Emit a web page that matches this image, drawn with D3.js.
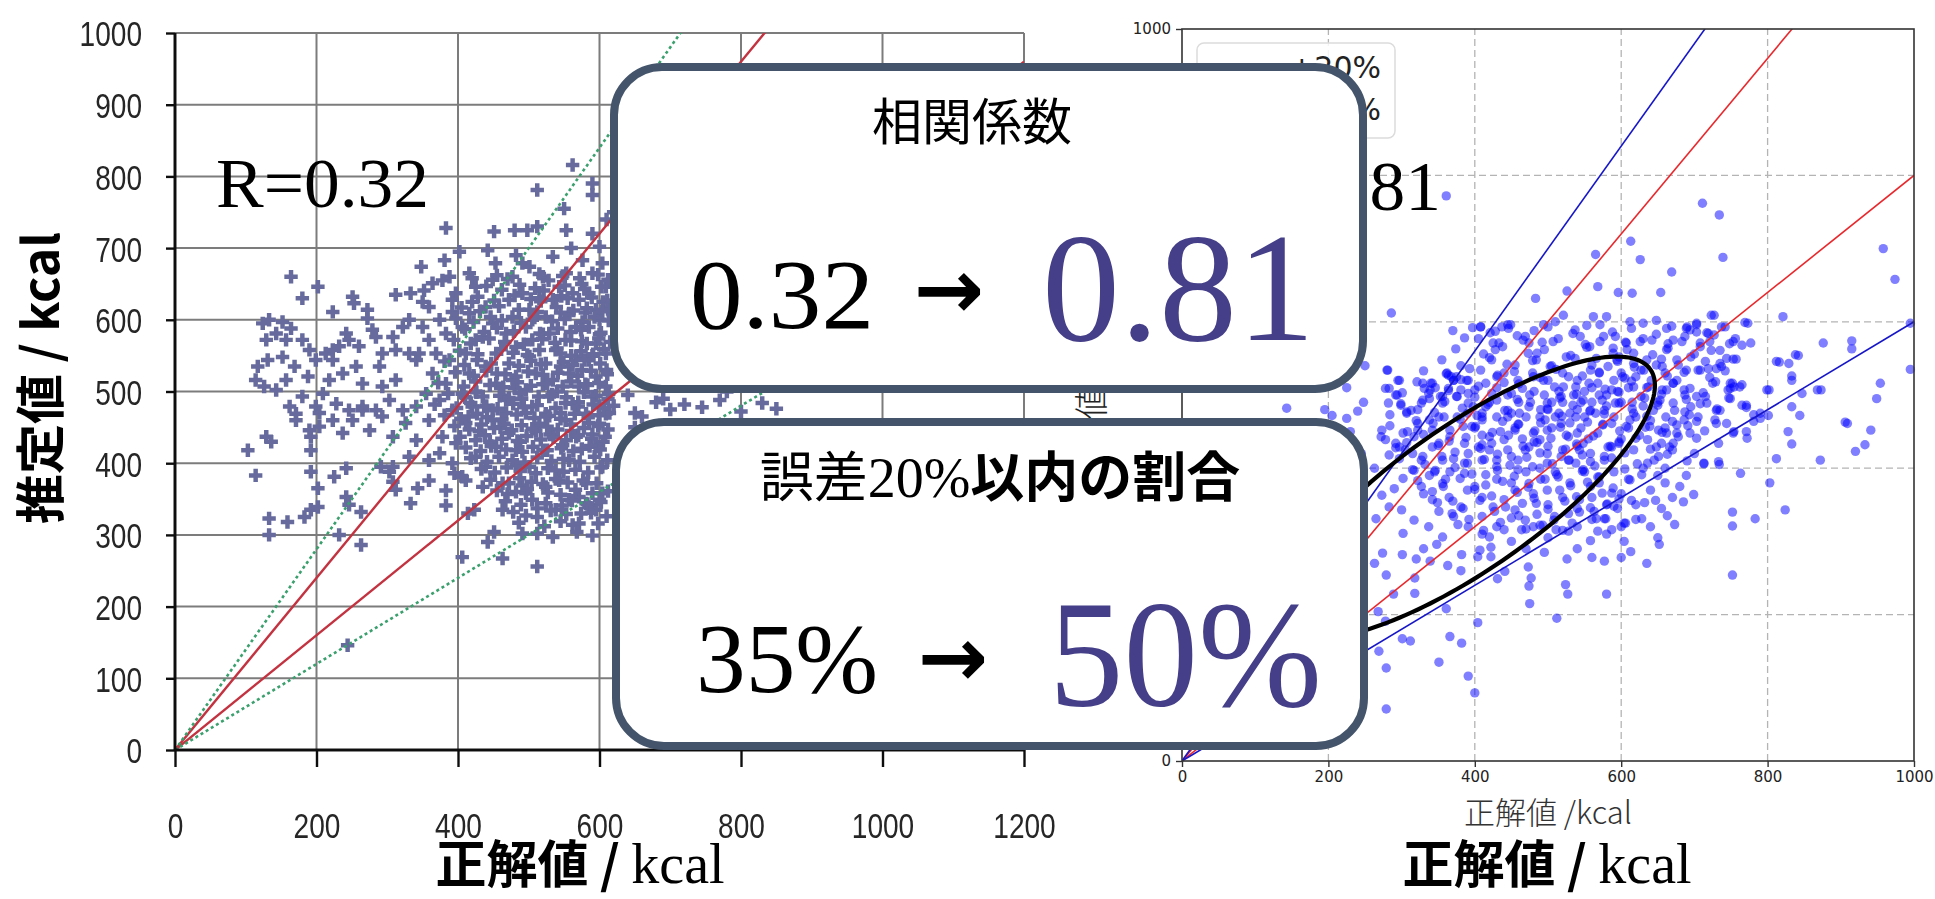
<!DOCTYPE html>
<html>
<head>
<meta charset="utf-8">
<script src="https://cdn.jsdelivr.net/npm/d3@7"></script>
<style>
  body { margin: 0; background: #fff; }
  svg { display: block; }
</style>
</head>
<body>
<svg id="chart" width="1935" height="899"></svg>
<script>
// ---------- data ----------
// before: spreadsheet scatter (true kcal vs estimated kcal)
const leftTicksX = [0, 200, 400, 600, 800, 1000, 1200];
const leftTicksY = [0, 100, 200, 300, 400, 500, 600, 700, 800, 900, 1000];
// after: matplotlib scatter
const rightTicks = [0, 200, 400, 600, 800, 1000];
// relative error bands drawn as y = (1 ± b) x
const errorBands = [0.2, 0.4];
const legendLabels = ["±20%", "±40%"];
// correlation and share within 20 % error, before -> after
const corrValues = ["0.32", "0.81"];
const within20 = ["35%", "50%"];
// 2-sigma ellipse of the new estimates
const ellipseCenter = [390, 360];
const ellipseAxes = [305, 98];
const ellipseAngle = 35;

const leftPoints = [
[562,816],[512,781],[590,790],[590,774],[550,755],[383,728],[451,723],[480,725],[498,725],[512,730],[553,725],[402,695],[381,683],[348,674],[442,697],[453,679],[482,690],[491,679],[416,665],[420,658],[164,660],[202,646],[180,630],[251,632],[253,623],[223,611],[272,614],[272,602],[312,635],[333,637],[352,641],[364,651],[378,655],[388,660],[350,625],[392,611],[420,625],[124,595],[133,600],[152,597],[164,588],[143,581],[129,572],[157,572],[180,572],[190,558],[117,535],[131,544],[152,548],[169,535],[114,516],[126,507],[157,516],[188,521],[199,544],[213,553],[223,558],
[242,581],[246,572],[260,563],[232,563],[223,544],[237,525],[256,535],[265,511],[289,535],[293,553],[308,576],[322,590],[331,600],[312,558],[331,553],[341,544],[284,576],[279,586],
[162,479],[171,469],[199,479],[228,483],[246,474],[265,479],[284,474],[303,488],[322,474],[209,497],[180,493],[143,502],[218,516],[293,507],[312,516],
[359,618],[374,600],[383,581],[359,572],[369,553],[388,544],[364,525],[383,511],[374,488],[392,474],[406,497],[416,525],[411,553],[425,572],[406,590],[416,609],[439,618],[449,595],[435,576],[454,553],[439,535],[454,511],[435,493],[449,474],[468,488],[477,516],[472,539],[482,562],[468,581],[477,604],[472,628],[491,637],[501,614],[496,590],[505,572],[501,549],[510,525],[496,502],[505,479],[524,469],[529,493],[534,516],[524,539],[538,558],[529,581],[524,604],[534,628],[543,646],[520,660],[553,665],[562,637],[557,609],[567,590],[552,572],[567,549],[557,525],[571,507],[562,483],[581,469],[590,493],[595,521],[585,544],[595,567],[585,590],[595,614],[585,637],[590,665],[576,683],[534,688],[501,674],[477,660],[449,656],[425,646],[397,637],[600,702],[604,679],[609,646],[609,553],[609,507],[609,469],[392,628],[350,590],[345,553],[355,497],[341,479],
[103,418],[114,383],[129,437],[136,430],[133,323],[133,300],[159,318],[183,325],[192,335],[202,339],[202,365],[192,388],[192,418],[192,437],[204,451],[225,381],[242,393],[242,353],[246,342],[232,300],[263,332],[263,286],[291,395],[303,388],[308,374],[312,363],[333,344],[343,365],[383,362],[383,341],[395,386],[411,376],[414,330],[423,335],[406,269],[442,290],[451,304],[463,267],[482,360],[491,369],[512,337],[512,325],[512,302],[512,256],[574,330],[585,339],[571,353],[600,349],[244,146],
[171,460],[190,446],[204,470],[223,460],[237,442],[251,460],[265,474],[275,446],[293,465],[308,437],[326,456],[341,432],[331,409],[359,460],[378,437],[374,414],[397,428],[411,456],[425,409],[439,395],[454,423],[472,442],[482,418],[501,395],[520,418],[538,390],[543,376],[557,404],[524,367],[567,437],[585,456],[595,423],[604,395],[581,372],[604,358],[552,460],[524,465],[449,460],[420,479],[496,470],[468,470],[614,470],[557,349],[538,335],[581,344],[595,335],[571,316],[496,358],[472,372],[482,397],[463,335],[435,367],[406,381],[392,400],[359,376],[359,404],[308,395],
[430,445],[445,430],[460,450],[488,430],[510,445],[530,440],[548,425],[560,445],[575,420],[590,440],[605,430],[415,465],[440,480],[465,455],[490,490],[515,455],[545,470],[570,485],[600,455],[612,490],[425,500],[455,525],[480,505],[540,500],[575,530],[600,580],[612,615],[560,700],[590,720],[610,740],
[505,600],[515,630],[545,610],[555,630],[575,650],[580,610],[600,600],[605,625],[520,580],[540,560],[560,550],[575,570],[590,550],[610,530],[545,535],[520,510],[580,510],[600,480],
[455,662],[470,657],[515,664],[528,655],[548,661],[572,658],[598,663],[612,656],
[440,647],[462,642],[487,649],[509,644],[521,641],[551,648],[579,643],[603,646],
[428,632],[451,627],[480,634],[503,629],[517,626],[546,633],[571,628],[589,631],[611,627],
[405,617],[431,612],[458,619],[486,614],[512,611],[539,618],[563,613],[582,616],[604,612],
[397,602],[422,597],[446,604],[462,599],[489,596],[508,603],[533,598],[551,601],[576,597],[593,604],[613,599],
[410,587],[437,583],[455,589],[479,584],[516,581],[541,588],[559,583],[574,586],[602,582],
[394,572],[418,567],[444,574],[466,569],[493,566],[519,573],[537,568],[560,571],[582,567],[599,574],[615,569],
[402,557],[428,552],[461,559],[478,554],[498,551],[515,558],[545,553],[574,556],[591,552],[606,559],
[381,542],[409,537],[427,544],[447,539],[486,536],[503,543],[517,538],[549,541],[562,537],[579,544],[601,539],
[396,527],[422,522],[440,529],[467,524],[482,521],[499,528],[520,523],[541,526],[569,522],[588,529],[611,524],
[372,512],[408,507],[425,514],[445,509],[464,506],[484,513],[503,508],[526,511],[548,507],[560,514],[583,509],[599,512],
[386,497],[410,492],[426,499],[459,494],[472,491],[487,498],[514,493],[533,496],[553,492],[578,499],[595,494],[613,497],
[367,482],[398,477],[418,484],[437,479],[456,476],[478,483],[493,478],[512,481],[538,477],[552,484],[570,479],[591,482],[606,477],
[381,467],[404,462],[427,469],[441,464],[462,461],[483,468],[508,463],[529,466],[545,462],[565,469],[584,464],[599,467],
[395,452],[416,447],[433,454],[451,449],[476,446],[490,453],[505,448],[526,451],[541,447],[560,454],[578,449],[598,452],[612,447],
[403,437],[425,432],[438,439],[462,434],[484,431],[497,438],[517,433],[535,436],[553,432],[570,439],[589,434],[608,437],
[411,422],[432,417],[447,424],[468,419],[491,416],[506,423],[526,418],[546,421],[563,417],[586,424],[601,419],
[418,407],[441,402],[458,409],[477,404],[494,401],[512,408],[532,403],[549,406],[572,402],[593,409],[611,404],
[433,392],[452,387],[469,394],[488,389],[510,386],[527,393],[549,388],[566,391],[584,387],[602,394],
[446,377],[463,372],[487,379],[504,374],[520,371],[538,378],[555,373],[577,376],[596,372],
[455,362],[470,357],[498,364],[527,359],[545,356],[566,363],[590,358],[612,361],
[467,347],[489,342],[505,349],[524,344],[547,341],[561,348],[583,343],[602,346],
[478,332],[496,327],[531,334],[553,329],[588,331],[610,326],
[486,317],[522,312],[545,319],[562,314],[598,316],
[491,302],[534,297],[568,304],[590,299],
[620,480],[650,470],[680,485],[700,475],[720,482],[745,478],[770,488],[800,472],[830,484],[850,476],[640,495],[690,490],[660,465],
[650,600],[700,550],[750,620],[800,580],[680,700],[720,650],[850,520],[900,600],[640,400],[700,350],[750,420],[800,300],[680,320],[660,520],[730,540],[780,500],[620,750],[700,780],[820,680],[650,450]
];

const rightPoints = [
[361,772],[286,612],[711,762],[734,746],[739,688],[613,710],[626,685],[669,668],[565,692],[568,648],[596,640],[615,639],[654,640],[526,642],[483,632],[958,700],[974,658],[821,607],[727,609],[370,588],[995,598],[995,535],[876,571],[915,574],[915,563],[842,554],[816,545],[829,543],[954,516],[949,495],[873,507],[847,502],[833,526],[833,520],[802,507],[909,461],[941,452],[933,432],[920,423],[844,472],[833,484],[828,450],[833,433],[812,413],[872,411],[801,472],[790,468],[781,464],[772,441],[754,450],[744,461],[735,479],[771,483],[752,516],[765,514],[749,509],[773,598],[777,571],[756,577],[748,570],[757,549],[742,593],[727,582],[717,585],[703,598],[690,593],[713,407],[733,409],
[769,599],[753,549],[812,546],[838,555],[799,507],[868,507],[906,463],
[723,609],[737,593],[753,573],[744,550],[765,568],[703,596],[689,591],[708,571],[719,584],[730,536],[708,534],[719,536],[749,516],[762,511],[746,507],[771,486],[781,473],[790,475],[753,448],[771,450],[730,479],[717,489],[730,461],[703,441],[733,434],[749,495],
[446,591],[466,575],[494,596],[510,600],[521,609],[537,589],[562,607],[571,596],[580,607],[592,580],[612,600],[630,598],[648,602],[662,591],[671,575],[683,573],[694,589],[708,566],[607,571],[626,573],[642,575],[662,562],[676,548],[507,573],[544,580],[557,566],[571,573],[589,564],[485,557],[525,552],[566,550],[594,548],[617,557],[635,548],[648,541],[660,530],[671,516],[689,534],[687,500],[703,498],[687,477],[703,464],[694,448],[676,459],[662,448],[648,429],[671,434],[639,457],[644,479],[653,493],[662,507],
[279,71],[279,127],[269,150],[351,135],[391,116],[400,93],[366,170],[382,161],[301,167],[312,164],[404,189],[361,208],[318,229],[289,228],[268,204],[278,191],[512,195],[475,215],[474,239],[477,250],[473,265],[524,241],[527,228],[580,228],[526,276],[560,278],[577,273],[600,278],[613,286],[431,249],[441,259],[635,270],[650,305],[652,296],[663,335],[673,323],[647,356],[628,331],[632,353],[752,254],[752,340],[752,321],[783,331],[824,343],[803,380],[689,390],[699,364],[685,354],[763,393],[713,406],[734,405],[604,300],[606,325],[614,356],[558,301],[568,314],[579,331],[590,348],[318,250],[279,254],[363,267],[381,260],[339,273],[320,276],[301,282],[274,284],[263,270],[330,290],[348,296],[382,282],[407,288],[422,292],[404,279],[422,279],
[283,418],[297,429],[263,400],[290,372],[273,363],[302,386],[317,397],[327,375],[342,357],[356,379],[366,395],[371,413],[391,420],[386,393],[400,375],[415,391],[430,411],[445,425],[459,398],[474,379],[455,370],[440,357],[425,347],[410,334],[391,320],[371,334],[351,341],[337,320],[317,329],[300,343],[283,347],[265,331],[302,311],[356,306],[381,347],[484,352],[499,370],[514,388],[528,411],[543,425],[548,398],[558,375],[543,357],[528,338],[509,334],[489,322],[469,329],[455,343],[464,316],[440,316],[420,306],[511,316],[533,325],[568,388],[577,411],[587,429],[558,420],[499,420],[474,429],[410,432],[342,429],[327,411],[346,397],[587,366],[595,345],[577,331],[563,341],[587,316],[604,325],
[405,577],[425,571],[423,548],[408,534],[391,520],[371,520],[361,529],[381,507],[400,507],[415,516],[430,525],[437,593],[445,596],[408,593],[469,580],[474,571],[455,541],[484,548],[479,530],[459,520],[450,502],[430,493],[415,484],[391,489],[376,498],[356,489],[342,516],[337,502],[327,489],[351,470],[376,470],[396,457],[410,466],[430,470],[445,479],[455,452],[440,439],[420,443],[405,429],[386,434],[366,443],[351,434],[342,452],[322,461],[307,475],[317,443],[302,448],[292,434],[273,452],[278,439],[305,425],[329,416],[356,411],[386,407],[410,411],[430,402],[450,416],[469,425],[489,439],[499,452],[489,470],[474,484],[499,489],[518,498],[509,511],[494,520],[528,525],[538,511],[548,493],[558,479],[538,470],[518,461],[528,443],[548,434],[568,448],[587,461],[577,479],[597,489],[587,507],[568,516],[558,534],[582,539],[602,525],[617,511],[627,498],[617,475],[607,457],[597,434],[577,416],[558,409],[538,407],[518,416],[499,407],[479,402],[459,411],[617,425],[636,439],[651,452],[661,470],[671,489],[656,507],[641,520],[631,534],[617,543],[597,552],[656,539],[676,520],[686,507],[695,484],[686,466],[676,448],[666,429],[651,416],[636,407],[705,470],[715,498],[725,516],[705,534],[735,543],[695,552],[735,561],
[500,480],[510,470],[520,490],[505,455],[530,462],[540,480],[495,500],[515,505],[525,445],[545,455],[490,462],[480,448],[470,470],[460,490],[455,455],[475,500],[535,500],[550,470],[560,490],[555,440],[500,430],[520,425],[540,430],[485,435],[465,440],[450,475],[445,500],[560,510],[575,460],[570,500],[580,485],[590,470],[600,490],[610,455],[600,440],[585,430],[620,470],[630,485],[640,465],[625,445],[650,490],[660,455],[610,510],[590,520],[570,530],[540,520],[520,530],[505,540],[480,525],[460,515],[440,530],[430,510],[420,490],[410,470],[400,455],[390,475],[410,445],[420,425],[435,450],[445,470],[460,460],[490,480],[505,490],[515,475],[530,475],[545,490],[550,505],[565,475],[580,500],[595,505],[600,530],[615,490],[635,510],[620,525],
[470,395],[490,385],[510,395],[530,380],[550,395],[570,380],[590,395],[610,385],[630,400],[650,390],[480,365],[500,350],[520,360],[540,345],[560,360],[580,350],[600,365],[620,350],[640,370],[660,380],[450,380],[430,385],[410,360],[390,370],[370,355],[360,385],[345,395],[330,365],[460,335],[480,320],[500,305],[520,315],[540,320],[560,330],[580,310],[600,320],[620,330],[640,320],[450,300],[430,320],[410,310],[470,290],[495,285],[540,290],[655,345],[670,360],[680,375],[690,410],[700,420],[670,425],[660,400],
[281,534],[297,520],[278,509],[292,500],[248,490],[329,516],[339,507],[364,527],[371,520],[356,498],[280,534],[295,520],[283,509],[294,500],[282,489],[299,486],[307,477],[313,479],[329,493],[340,516],[331,509],[353,498],[362,530],[364,509],[375,525],[389,520],[391,502],[375,498],[398,484],[358,470],[338,466],[322,452],[384,457],[428,587],[428,562],[408,593],[410,475],
[397,592],[421,585],[449,596],[481,588],[500,593],[534,584],[553,595],[588,586],[614,591],[648,583],[669,594],[703,586],
[386,578],[433,571],[458,581],[492,572],[514,577],[551,569],[576,580],[606,572],[630,577],[664,570],[687,580],[721,573],
[374,563],[412,556],[438,566],[473,557],[495,562],[531,554],[553,565],[589,557],[608,562],[643,555],[664,564],[700,556],[723,561],
[355,548],[381,540],[420,551],[444,542],[479,547],[503,539],[537,550],[560,541],[595,546],[618,538],[655,549],[678,541],[715,546],[737,539],
[330,533],[368,525],[393,536],[431,527],[454,532],[489,524],[511,535],[547,526],[570,531],[605,523],[627,534],[663,526],[686,531],[721,524],[742,533],
[321,518],[346,510],[381,521],[405,512],[440,517],[465,509],[500,520],[521,511],[556,516],[578,508],[614,519],[637,511],[671,516],[694,509],[729,518],[754,511],
[301,503],[338,495],[364,506],[400,497],[423,502],[458,494],[481,505],[516,496],[539,501],[574,493],[597,504],[632,496],[655,501],[689,494],[712,503],[747,496],
[299,488],[322,480],[359,491],[383,482],[418,487],[441,479],[476,490],[499,481],[534,486],[557,478],[592,489],[615,481],[650,486],[673,479],[708,488],[731,481],[765,486],
[284,473],[320,465],[345,476],[380,467],[403,472],[438,464],[461,475],[496,466],[519,471],[554,463],[577,474],[612,466],[635,471],[670,464],[693,473],[728,466],
[284,458],[308,450],[343,461],[366,452],[401,457],[424,449],[459,460],[482,451],[517,456],[540,448],[575,459],[598,451],[633,456],[656,449],[691,458],[714,451],
[272,443],[307,435],[330,446],[365,437],[388,442],[423,434],[446,445],[481,436],[504,441],[539,433],[562,444],[597,436],[620,441],[655,434],[678,443],
[292,428],[315,420],[350,431],[373,422],[408,427],[431,419],[466,430],[489,421],[524,426],[547,418],[582,429],[605,421],[640,426],[663,419],
[297,413],[332,405],[355,416],[390,407],[413,412],[448,404],[471,415],[506,406],[529,411],[564,403],[587,414],[622,406],[645,411],
[315,398],[338,390],[373,401],[396,392],[431,397],[454,389],[489,400],[512,391],[547,396],[570,388],[605,399],[628,391],
[322,383],[357,375],[380,386],[415,377],[438,382],[473,374],[496,385],[531,376],[554,381],[589,373],[612,384],
[342,368],[365,360],[400,371],[423,362],[458,367],[481,359],[516,370],[539,361],[574,366],[597,358],
[349,353],[384,345],[407,356],[442,347],[465,352],[500,344],[523,355],[558,346],[581,351],
[369,338],[392,330],[427,341],[450,332],[485,337],[508,329],[543,340],[566,331],
[377,323],[412,315],[435,326],[470,317],[493,322],[528,314],
[143,482],[205,472],[225,468],[240,478],[150,180],[170,220],[190,260],[200,300],[210,350],[220,280],[230,320],[240,380],[180,330],[160,280],[200,420],[230,450],[215,400],[245,420],[170,390],[130,330],[120,250],[140,150],[195,480],[225,510],[185,520],[250,540],[235,560],[120,400],[100,300],[180,600],[210,640]
];

// ---------- setup ----------
const svg = d3.select("#chart");
const defs = svg.append("defs");
defs.append("filter").attr("id", "soft")
  .append("feGaussianBlur").attr("stdDeviation", 0.75);

const CJK = "'Noto Sans CJK JP', 'Noto Sans CJK SC', sans-serif";
const SERIF = "'Liberation Serif', 'DejaVu Serif', serif";
const intFmt = d3.format("d");

// ================= right panel (after) =================
const xR = d3.scaleLinear().domain([0, 1000]).range([1182, 1914]);
const yR = d3.scaleLinear().domain([0, 1000]).range([761, 29]);
const gR = svg.append("g");

defs.append("clipPath").attr("id", "clipR").append("rect")
  .attr("x", xR(0)).attr("y", yR(1000))
  .attr("width", xR(1000) - xR(0)).attr("height", yR(0) - yR(1000));

const gridR = rightTicks.filter(t => t > 0 && t < 1000);
gR.selectAll("line.gxR").data(gridR).join("line")
  .attr("x1", d => xR(d)).attr("x2", d => xR(d))
  .attr("y1", yR(0)).attr("y2", yR(1000))
  .attr("stroke", "#b4b4b4").attr("stroke-width", 1.3).attr("stroke-dasharray", "7,4");
gR.selectAll("line.gyR").data(gridR).join("line")
  .attr("y1", d => yR(d)).attr("y2", d => yR(d))
  .attr("x1", xR(0)).attr("x2", xR(1000))
  .attr("stroke", "#b4b4b4").attr("stroke-width", 1.3).attr("stroke-dasharray", "7,4");

gR.append("g").selectAll("circle").data(rightPoints).join("circle")
  .attr("cx", d => xR(d[0])).attr("cy", d => yR(d[1])).attr("r", 4.7)
  .attr("fill", "#0000ff").attr("fill-opacity", 0.5);

const bandColorsR = ["#e8282c", "#1616c8"];
const linesR = gR.append("g").attr("clip-path", "url(#clipR)");
errorBands.forEach((b, i) => {
  [1 + b, 1 - b].forEach(s => {
    linesR.append("line")
      .attr("x1", xR(0)).attr("y1", yR(0))
      .attr("x2", xR(1000)).attr("y2", yR(1000 * s))
      .attr("stroke", bandColorsR[i]).attr("stroke-width", 1.6);
  });
});

// confidence ellipse
const th = ellipseAngle * Math.PI / 180;
const ellPts = d3.range(0, 360, 2).map(t => {
  const r = t * Math.PI / 180;
  const ex = ellipseAxes[0] * Math.cos(r), ey = ellipseAxes[1] * Math.sin(r);
  return [ellipseCenter[0] + ex * Math.cos(th) - ey * Math.sin(th),
          ellipseCenter[1] + ex * Math.sin(th) + ey * Math.cos(th)];
});
linesR.append("path")
  .attr("d", d3.line().x(d => xR(d[0])).y(d => yR(d[1])).curve(d3.curveLinearClosed)(ellPts))
  .attr("fill", "none").attr("stroke", "#000").attr("stroke-width", 4.2);

gR.append("rect")
  .attr("x", xR(0)).attr("y", yR(1000))
  .attr("width", xR(1000) - xR(0)).attr("height", yR(0) - yR(1000))
  .attr("fill", "none").attr("stroke", "#333").attr("stroke-width", 1.6);

const axBR = gR.append("g").attr("transform", `translate(0,${yR(0)})`)
  .call(d3.axisBottom(xR).tickValues(rightTicks).tickFormat(intFmt).tickSize(6).tickPadding(4).tickSizeOuter(0));
const axLR = gR.append("g").attr("transform", `translate(${xR(0)},0)`)
  .call(d3.axisLeft(yR).tickValues(rightTicks).tickFormat(intFmt).tickSize(6).tickPadding(5).tickSizeOuter(0));
[axBR, axLR].forEach(ax => {
  ax.select(".domain").remove();
  ax.selectAll(".tick line").attr("stroke", "#333").attr("stroke-width", 1.4);
  ax.selectAll(".tick text").attr("font-family", "'DejaVu Sans', sans-serif")
    .attr("font-size", 15).attr("fill", "#222");
});

// legend
const lg = gR.append("g");
lg.append("rect").attr("x", 1197).attr("y", 43).attr("width", 198).attr("height", 95)
  .attr("rx", 7).attr("fill", "#fff").attr("fill-opacity", 0.85)
  .attr("stroke", "#dcdcdc").attr("stroke-width", 1.5);
legendLabels.forEach((lab, i) => {
  const yy = 67 + i * 42;
  lg.append("line").attr("x1", 1212).attr("x2", 1268).attr("y1", yy).attr("y2", yy)
    .attr("stroke", bandColorsR[i]).attr("stroke-width", 2);
  lg.append("text").attr("x", 1381).attr("y", yy + 11).attr("text-anchor", "end")
    .attr("font-family", "'DejaVu Sans', sans-serif").attr("font-size", 30).attr("fill", "#222")
    .text(lab);
});

gR.append("text").attr("x", 1441).attr("y", 210).attr("text-anchor", "end")
  .attr("font-family", SERIF).attr("font-size", 70)
  .attr("textLength", 213).attr("lengthAdjust", "spacingAndGlyphs")
  .text("R=" + corrValues[1]);

gR.append("text").attr("x", 1548).attr("y", 824).attr("text-anchor", "middle")
  .attr("font-family", CJK).attr("font-weight", 300).attr("font-size", 31).attr("fill", "#333")
  .text("正解値 /kcal");
gR.append("text").attr("transform", "translate(1104,395) rotate(-90)").attr("text-anchor", "middle")
  .attr("font-family", CJK).attr("font-weight", 300).attr("font-size", 34).attr("fill", "#222")
  .text("推定値 /kcal");

// ================= left panel (before) =================
const xL = d3.scaleLinear().domain([0, 1200]).range([175, 1024]);
const yL = d3.scaleLinear().domain([0, 1000]).range([750, 33]);
const gL = svg.append("g").attr("filter", "url(#soft)");

defs.append("clipPath").attr("id", "clipL").append("rect")
  .attr("x", xL(0)).attr("y", yL(1000))
  .attr("width", xL(1200) - xL(0)).attr("height", yL(0) - yL(1000));

gL.selectAll("line.gxL").data(leftTicksX.filter(t => t > 0)).join("line")
  .attr("x1", d => xL(d)).attr("x2", d => xL(d))
  .attr("y1", yL(0)).attr("y2", yL(1000))
  .attr("stroke", "#7c7c7c").attr("stroke-width", 2);
gL.selectAll("line.gyL").data(leftTicksY.filter(t => t > 0)).join("line")
  .attr("y1", d => yL(d)).attr("y2", d => yL(d))
  .attr("x1", xL(0)).attr("x2", xL(1200))
  .attr("stroke", "#7c7c7c").attr("stroke-width", 2);

const marker = d3.symbol().type(d3.symbolCross).size(100);
gL.append("g").selectAll("path").data(leftPoints).join("path")
  .attr("transform", d => `translate(${xL(d[0])},${yL(d[1])})`)
  .attr("d", marker).attr("fill", "#666b9d");

const bandStylesL = [
  { color: "#c2323f", dash: null, width: 2.4 },
  { color: "#3aa06e", dash: "3,3", width: 2.6 }
];
const linesL = gL.append("g").attr("clip-path", "url(#clipL)");
errorBands.forEach((b, i) => {
  [1 + b, 1 - b].forEach(s => {
    linesL.append("line")
      .attr("x1", xL(0)).attr("y1", yL(0))
      .attr("x2", xL(1200)).attr("y2", yL(1200 * s))
      .attr("stroke", bandStylesL[i].color).attr("stroke-width", bandStylesL[i].width)
      .attr("stroke-dasharray", bandStylesL[i].dash);
  });
});

gL.append("line").attr("x1", xL(0)).attr("x2", xL(1200)).attr("y1", yL(0)).attr("y2", yL(0))
  .attr("stroke", "#111").attr("stroke-width", 3);
gL.append("line").attr("x1", xL(0)).attr("x2", xL(0)).attr("y1", yL(0)).attr("y2", yL(1000))
  .attr("stroke", "#111").attr("stroke-width", 3);

const sx = 0.78;
const axBL = gL.append("g").attr("transform", `translate(0,${yL(0)})`)
  .call(d3.axisBottom(xL).tickValues(leftTicksX).tickFormat(intFmt).tickSize(17).tickSizeOuter(0));
const axLL = gL.append("g").attr("transform", `translate(${xL(0)},0)`)
  .call(d3.axisLeft(yL).tickValues(leftTicksY).tickFormat(intFmt).tickSize(9).tickSizeOuter(0));
[axBL, axLL].forEach(ax => {
  ax.select(".domain").remove();
  ax.selectAll(".tick line").attr("stroke", "#111").attr("stroke-width", 2.4);
  ax.selectAll(".tick text").attr("font-family", "'Liberation Sans', Arial, sans-serif")
    .attr("font-size", 36).attr("fill", "#262626").attr("transform", `scale(${sx},1)`);
});
axBL.selectAll(".tick text").attr("y", 88).attr("dy", null);
axLL.selectAll(".tick text").attr("x", -33 / sx).attr("dy", "0.36em");

svg.append("text").attr("x", 216).attr("y", 207)
  .attr("font-family", SERIF).attr("font-size", 70)
  .attr("textLength", 213).attr("lengthAdjust", "spacingAndGlyphs")
  .text("R=" + corrValues[0]);

// axis titles
function bottomTitle(cx) {
  const t = svg.append("text").attr("x", cx).attr("y", 883).attr("text-anchor", "middle");
  t.append("tspan").attr("font-family", CJK).attr("font-weight", 700).attr("font-size", 51).text("正解値 / ");
  t.append("tspan").attr("font-family", SERIF).attr("font-size", 56).text("kcal");
}
bottomTitle(580);
bottomTitle(1547);
svg.append("text").attr("transform", "translate(59,378) rotate(-90)").attr("text-anchor", "middle")
  .attr("font-family", CJK).attr("font-weight", 700).attr("font-size", 50)
  .text("推定値 / kcal");

// ================= summary panels =================
const panelColor = "#44546a";
const numColor = "#443f88";
const panels = [
  { x: 614, y: 67, w: 749, h: 322 },
  { x: 616, y: 422, w: 748, h: 324 }
];
svg.selectAll("rect.panel").data(panels).join("rect")
  .attr("x", d => d.x).attr("y", d => d.y).attr("width", d => d.w).attr("height", d => d.h)
  .attr("rx", 48).attr("fill", "#fff").attr("stroke", panelColor).attr("stroke-width", 8);

// panel 1: correlation coefficient
svg.append("text").attr("x", 972).attr("y", 140).attr("text-anchor", "middle")
  .attr("font-family", CJK).attr("font-size", 50).text("相関係数");
svg.append("text").attr("x", 690).attr("y", 328)
  .attr("font-family", SERIF).attr("font-size", 100)
  .attr("textLength", 184).attr("lengthAdjust", "spacingAndGlyphs").text(corrValues[0]);
svg.append("text").attr("x", 949).attr("y", 318).attr("text-anchor", "middle")
  .attr("font-family", "'DejaVu Sans', sans-serif").attr("font-weight", 700).attr("font-size", 84)
  .text("→");
svg.append("text").attr("x", 1042).attr("y", 340)
  .attr("font-family", SERIF).attr("font-size", 154).attr("fill", numColor)
  .attr("textLength", 273).attr("lengthAdjust", "spacingAndGlyphs").text(corrValues[1]);

// panel 2: share within 20 % error
const t2 = svg.append("text").attr("x", 1000).attr("y", 497).attr("text-anchor", "middle");
t2.append("tspan").attr("font-family", CJK).attr("font-size", 54).text("誤差");
t2.append("tspan").attr("font-family", SERIF).attr("font-size", 56).text("20%");
t2.append("tspan").attr("font-family", CJK).attr("font-weight", 700).attr("font-size", 54).text("以内の割合");
svg.append("text").attr("x", 696).attr("y", 692)
  .attr("font-family", SERIF).attr("font-size", 100)
  .attr("textLength", 182).attr("lengthAdjust", "spacingAndGlyphs").text(within20[0]);
svg.append("text").attr("x", 953).attr("y", 686).attr("text-anchor", "middle")
  .attr("font-family", "'DejaVu Sans', sans-serif").attr("font-weight", 700).attr("font-size", 84)
  .text("→");
svg.append("text").attr("x", 1049).attr("y", 706)
  .attr("font-family", SERIF).attr("font-size", 152).attr("fill", numColor)
  .attr("textLength", 273).attr("lengthAdjust", "spacingAndGlyphs").text(within20[1]);
</script>
</body>
</html>
